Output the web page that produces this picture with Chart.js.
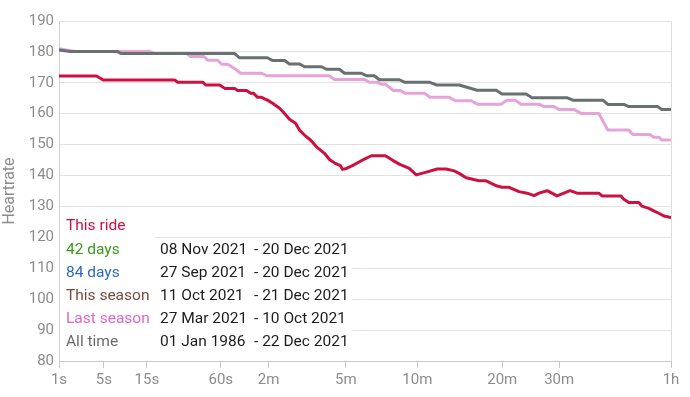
<!DOCTYPE html>
<html>
<head>
<meta charset="utf-8">
<script src="https://cdn.jsdelivr.net/npm/chart.js@4.4.1/dist/chart.umd.min.js"></script>
<style>
  html, body { margin: 0; padding: 0; background: #fff; }
  #wrap { position: relative; width: 690px; height: 397px; font-family: Roboto, "Noto Sans", sans-serif; }
  #heartChart { position: absolute; left: 0; top: 0; }
  #periods { position: absolute; left: 60px; top: 213px; border-collapse: collapse; font-size: 15.5px; table-layout: fixed; }
  #periods td { padding: 0; height: 23.2px; line-height: 23.2px; white-space: nowrap; overflow: visible; }
  #periods td.fill { background: #fff; }
  #periods td.name { width: 89px; padding-left: 6px; }
  #periods td.from { width: 94px; padding-left: 5px; color: #1c1c1c; }
  #periods td.to { width: 98px; color: #1c1c1c; }
  #periods tr.first td { height: 24.6px; line-height: 22px; }
</style>
</head>
<body>
<div id="wrap">
  <canvas id="heartChart" width="690" height="397"></canvas>
  <table id="periods"></table>
</div>
<script>
// x axis ticks (seconds) and their labels
const tickSecs = [1, 5, 15, 60, 120, 300, 600, 1200, 1800, 3600];
const tickLabels = ["1s", "5s", "15s", "60s", "2m", "5m", "10m", "20m", "30m", "1h"];

// this ride
const thisRideSecs = [1, 4.0, 4.9, 26.8, 28.4, 44.6, 46.9, 59, 63.8, 74.3,
  77.7, 88.6, 93.8, 97.8, 103.4, 109.2, 113.8, 118.4, 126.6, 138.6,
  147.7, 157.2, 169.3, 177.7, 188.6, 202.4, 217, 237.6, 251.2, 268.2,
  283.1, 289.3, 301.8, 321.4, 352.5, 389.7, 446.6, 477.3, 509.5, 558.3,
  594.6, 655, 713.9, 770.2, 822.9, 857.2, 907, 1005, 1061.5, 1154.5,
  1198, 1263, 1358, 1440, 1513, 1566, 1657, 1774, 1936, 2027,
  2334, 2381, 2678, 2728, 2810, 2984, 3039, 3166, 3261, 3356,
  3455, 3600];
const thisRideBpm = [172.2, 172.2, 170.9, 170.9, 170.2, 170.2, 169.3, 169.3, 168.2, 168.2,
  167.5, 167.5, 166.6, 166.6, 165.3, 165.3, 164.8, 164.4, 163.4, 161.8,
  160.1, 158.2, 156.9, 154.7, 153.1, 151.5, 149.3, 147.2, 145.2, 143.9,
  143.2, 142.0, 142.3, 143.2, 144.8, 146.4, 146.4, 145.0, 143.7, 142.3,
  140.2, 141.2, 142.1, 142.1, 141.5, 140.7, 139.3, 138.3, 138.3, 136.6,
  136.2, 136.2, 134.8, 134.3, 133.5, 134.3, 135.1, 133.4, 135.1, 134.3,
  134.3, 133.4, 133.4, 132.3, 131.3, 131.3, 130.1, 129.4, 128.6, 127.8,
  126.9, 126.4];

// all time
const allTimeSecs = [1, 1.6, 7.3, 8, 74, 80, 118, 127, 148, 157,
  178, 189, 230, 243, 280, 296, 352, 371, 401, 422,
  510, 534, 667, 708, 857, 990, 1146, 1198, 1429, 1491,
  1896, 1974, 2394, 2470, 2726, 2810, 3336, 3414, 3600];
const allTimeBpm = [180.6, 180.1, 180.1, 179.5, 179.5, 178.1, 178.1, 177.2, 177.2, 176.1,
  176.1, 175.2, 175.2, 174.4, 174.4, 173.1, 173.1, 172.3, 172.3, 171.0,
  171.0, 170.2, 170.2, 169.3, 169.3, 167.6, 167.6, 166.4, 166.4, 165.2,
  165.2, 164.4, 164.4, 163.0, 163.0, 162.3, 162.3, 161.4, 161.4];

// last season
const lastSeasonSecs = [1, 1.9, 16, 17.9, 33.6, 36.1, 45.4, 48.5, 57.1, 60.9,
  66.8, 71, 75.4, 81.2, 109, 117, 251, 265, 363, 382,
  413, 430, 447, 482, 514, 538, 638, 672, 790, 830,
  944, 990, 1190, 1244, 1320, 1378, 1566, 1622, 1737, 1797,
  1986, 2081, 2334, 2470, 2810, 2879, 3184, 3260, 3356, 3414,
  3600];
const lastSeasonBpm = [181.0, 180.1, 180.1, 179.5, 179.5, 178.5, 178.5, 177.3, 177.3, 176.0,
  176.0, 175.2, 174.4, 173.1, 173.1, 172.3, 172.3, 171.1, 171.1, 170.2,
  170.2, 169.5, 169.5, 167.5, 167.5, 166.6, 166.6, 165.3, 165.3, 164.2,
  164.2, 163.1, 163.1, 164.4, 164.4, 163.1, 163.1, 162.3, 162.3, 161.4,
  161.4, 160.1, 160.1, 154.7, 154.7, 153.3, 153.3, 152.4, 152.4, 151.5,
  151.5];

// legend rows
const periodNames = ["This ride", "42 days", "84 days", "This season", "Last season", "All time"];
const periodColors = ["#cc1040", "#3a9a1a", "#2a6bbf", "#7a4a3a", "#dd66cc", "#6a6a6a"];
const periodFrom = ["", "08 Nov 2021", "27 Sep 2021", "11 Oct 2021", "27 Mar 2021", "01 Jan 1986"];
const periodTo = ["", "- 20 Dec 2021", "- 20 Dec 2021", "- 21 Dec 2021", "- 10 Oct 2021", "- 22 Dec 2021"];

// time axis is drawn on a fourth-root scale
function xPos(sec) {
  return Math.pow(sec, 0.25);
}

function toPoints(secs, bpm) {
  return secs.map((s, i) => ({ x: xPos(s), y: bpm[i] }));
}

const table = document.getElementById("periods");
table.innerHTML = periodNames.map((name, i) => {
  const nameCell = `<td class="name fill" style="color:${periodColors[i]}">${name}</td>`;
  if (i === 0) {
    return `<tr class="first">${nameCell}<td class="from"></td><td class="to"></td></tr>`;
  }
  return `<tr>${nameCell}<td class="from fill">${periodFrom[i]}</td><td class="to fill">${periodTo[i]}</td></tr>`;
}).join("");

const lastTick = tickSecs.length - 1;

new Chart(document.getElementById("heartChart"), {
  type: "line",
  data: {
    datasets: [
      {
        label: "This ride",
        data: toPoints(thisRideSecs, thisRideBpm),
        borderColor: "#cc1040",
        borderWidth: 3,
      },
      {
        label: "All time",
        data: toPoints(allTimeSecs, allTimeBpm),
        borderColor: "#687070",
        borderWidth: 3,
      },
      {
        label: "Last season",
        data: toPoints(lastSeasonSecs, lastSeasonBpm),
        borderColor: "#e6a3da",
        borderWidth: 3,
      },
    ],
  },
  options: {
    responsive: false,
    animation: false,
    devicePixelRatio: 1,
    layout: { padding: { top: 21, right: 19, left: 0, bottom: 0 } },
    elements: {
      point: { radius: 0 },
      line: { tension: 0, borderJoinStyle: "round", borderCapStyle: "round" },
    },
    plugins: {
      legend: { display: false },
      tooltip: { enabled: false },
    },
    scales: {
      x: {
        type: "linear",
        min: xPos(tickSecs[0]),
        max: xPos(tickSecs[lastTick]),
        afterBuildTicks: (axis) => {
          axis.ticks = tickSecs.map((s) => ({ value: xPos(s) }));
        },
        afterFit: (axis) => {
          axis.height = 36;
        },
        grid: {
          color: (ctx) => (ctx.index === lastTick ? "#dcdcdc" : "rgba(0,0,0,0)"),
          tickColor: "#c8c8c8",
          tickLength: 7,
        },
        border: { color: "#c8c8c8" },
        ticks: {
          autoSkip: false,
          maxRotation: 0,
          padding: 3,
          color: "#8c8c8c",
          font: { family: "Roboto", size: 15 },
          callback: (value, index) => tickLabels[index],
        },
      },
      y: {
        min: 80,
        max: 190,
        afterFit: (axis) => {
          axis.width = 59;
        },
        title: {
          display: true,
          text: "Heartrate",
          color: "#8c8c8c",
          font: { family: "Roboto", size: 16 },
          padding: { top: 0, bottom: 0 },
        },
        grid: { color: "#e2e2e2", drawTicks: false },
        border: { color: "#d0d0d0" },
        ticks: {
          stepSize: 10,
          padding: 5,
          color: "#8c8c8c",
          font: { family: "Roboto", size: 15 },
        },
      },
    },
  },
});
</script>
</body>
</html>
